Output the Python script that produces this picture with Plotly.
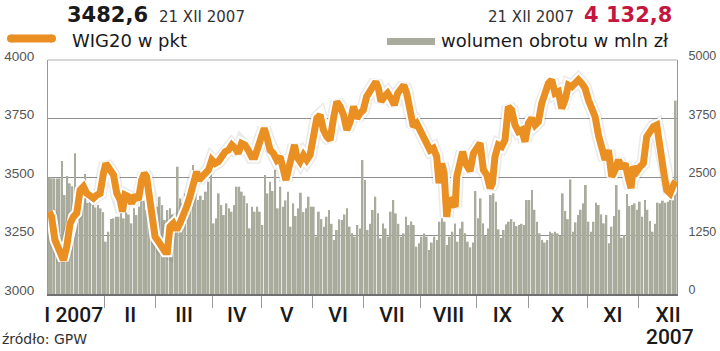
import plotly.graph_objects as go

# ---------------- data ----------------
month_labels = ["I 2007", "II", "III", "IV", "V", "VI", "VII", "VIII", "IX", "X", "XI", "XII"]
year_label = "2007"

# daily turnover (mln zł), one list per month
vol_jan = [2494, 2470, 2470, 2470, 2470, 2842, 2115, 2521, 2364, 2300, 3006, 2200, 2364, 2150, 2564, 1944, 2050, 1944, 1850, 1900, 1830, 1750]
vol_feb = [1118, 1331, 1600, 1616, 1652, 1652, 1723, 1616, 1759, 1700, 1509, 1830, 1687, 1865, 2435, 2000, 1794, 1652, 1438, 1700]
vol_mar = [1865, 2079, 1900, 1581, 1794, 1830, 1700, 1652, 2720, 2043, 1937, 2150, 1794, 1900, 2755, 2150, 2008, 2100, 2008, 2186, 2400, 3006]
vol_apr = [1509, 1616, 2150, 1900, 1687, 1937, 1830, 1759, 1900, 2293, 2293, 2186, 2100, 1937, 1403, 1865, 1759, 1865, 1759]
vol_may = [1474, 2542, 2150, 2399, 2200, 2649, 1830, 2293, 1865, 2000, 2186, 1438, 1937, 1666, 1830, 2164, 1750, 1830, 2079, 1865]
vol_jun = [1865, 1225, 1759, 1600, 1438, 1652, 1794, 1500, 1153, 1367, 1595, 1581, 1700, 1830, 1438, 1300, 1225, 1474, 1400, 2862]
vol_jul = [2435, 1367, 1500, 1794, 2079, 1723, 1189, 1509, 1400, 1225, 1759, 2008, 1723, 1500, 1225, 1296, 1652, 1474, 1550, 1474, 1011, 1082]
vol_aug = [1225, 1296, 1225, 940, 1100, 1225, 1153, 1545, 1616, 1545, 1047, 1225, 1331, 1509, 1118, 1400, 1545, 1300, 1118, 997, 1100, 2200]
vol_sep = [1616, 2043, 1509, 1246, 1400, 2115, 2150, 1972, 1381, 1200, 1367, 1488, 1545, 1600, 1545, 1452, 1474, 1500, 1474, 2008]
vol_oct = [2008, 2221, 1800, 1545, 1296, 1153, 1100, 1153, 1331, 1300, 1331, 1296, 1239, 2150, 1773, 1600, 2449, 1331, 1531, 1687, 1800, 1937, 2328]
vol_nov = [1545, 1331, 1545, 1951, 1901, 1700, 1509, 1687, 1082, 1438, 1666, 2328, 1800, 1203, 1260, 2136, 1879, 1900, 1937, 1800]
vol_dec = [1972, 1652, 2008, 1800, 1559, 1331, 1500, 1951, 1937, 1994, 1950, 1972, 2008, 2000, 4133]

# WIG20 readings: session number (trading day of 2007) and index level
wig_day = [0, 0.9, 2.2, 3.5, 5.5, 6.8, 8.1, 9.4, 10.7, 12.0, 13.3, 14.6, 15.9, 17.2, 18.5, 19.8, 21.1, 22.0, 23.7, 25.0,
           26.3, 27.6, 28.5, 29.5, 30.8, 32.1, 33.4, 34.7, 36.0, 37.0, 37.9, 38.8, 39.9, 41.2, 42.5, 43.8, 45.1, 46.0, 47.0, 48.3,
           49.6, 50.9, 52.2, 53.5, 54.8, 56.1, 57.4, 58.3, 59.4, 60.7, 62.0, 63.3, 64.6, 65.9, 67.2, 68.5, 69.8, 71.1, 72.4, 73.6,
           74.9, 76.2, 77.5, 78.8,
           80.1, 81.4, 82.7, 83.7, 84.7, 86.0, 87.3, 88.6, 89.9, 91.2, 92.2, 93.1, 94.4, 95.5, 96.4, 97.7, 99.0, 100.3, 101.6, 102.9,
           104.2, 105.5, 106.8, 108.1, 109.4, 110.7, 112.0, 113.3, 114.6, 115.9, 117.2, 118.5, 119.8, 121.0, 122.3, 123.6, 124.9, 126.2, 127.2, 128.2,
           129.2, 130.5, 131.8, 133.1, 134.4, 135.7, 137.0, 138.1, 139.2, 140.5, 141.8, 143.1, 144.4, 145.7, 147.0, 148.3, 149.6, 150.9, 151.8, 152.9,
           153.8, 154.8, 155.7, 156.8, 158.1, 158.7, 160.0, 161.0, 162.2, 163.9,
           165.2, 166.5, 167.8, 169.1, 170.4, 171.7, 172.6, 173.6, 174.9, 176.2, 177.5, 178.8, 180.1, 181.4, 182.7, 184.0, 185.3, 186.6, 187.9, 189.2,
           190.5, 191.8, 193.1, 194.4, 195.7, 197.0, 198.3, 199.6, 200.9, 202.2, 203.5, 204.8, 206.1, 207.4, 208.7, 210.0, 211.3, 212.6, 213.9, 215.2,
           216.5, 217.8, 219.1, 220.4, 221.7, 223.0, 224.3, 225.6, 226.6, 227.5, 228.8, 230.1, 231.4, 232.7, 234.0, 235.3, 236.6, 237.9, 239.2, 240.5,
           241.8, 243.1, 244.0]
wig_value = [3352, 3330, 3231, 3188, 3145, 3202, 3302, 3330, 3345, 3444, 3459, 3430, 3423, 3409, 3423, 3430, 3516, 3558, 3530, 3509,
             3430, 3402, 3352, 3423, 3416, 3387, 3423, 3402, 3487, 3516, 3501, 3430, 3330, 3245, 3224, 3195, 3181, 3181, 3288, 3302,
             3274, 3302, 3330, 3373, 3416, 3473, 3523, 3487, 3501, 3516, 3530, 3573, 3558, 3566, 3587, 3608, 3615, 3637, 3623, 3601,
             3644, 3637, 3615, 3587,
             3587, 3630, 3687, 3708, 3672, 3615, 3601, 3573, 3587, 3530, 3487, 3530, 3601, 3637, 3587, 3566, 3594, 3573, 3594, 3687,
             3751, 3765, 3701, 3672, 3658, 3751, 3822, 3801, 3765, 3701, 3736, 3801, 3751, 3772, 3786, 3843, 3865, 3893, 3907, 3879,
             3822, 3843, 3858, 3836, 3808, 3858, 3872, 3893, 3858, 3786, 3715, 3729, 3701, 3679, 3658, 3615, 3623, 3587, 3473, 3558,
             3516, 3330, 3409, 3387, 3373, 3501, 3587, 3608, 3558, 3525,
             3601, 3623, 3644, 3530, 3509, 3452, 3473, 3587, 3637, 3630, 3658, 3801, 3786, 3722, 3694, 3701, 3651, 3729, 3751, 3722,
             3736, 3815, 3865, 3900, 3915, 3858, 3865, 3793, 3829, 3893, 3886, 3900, 3915, 3900, 3879, 3829, 3801, 3758, 3679, 3608,
             3573, 3615, 3501, 3530, 3573, 3537, 3558, 3494, 3452, 3544, 3523, 3544, 3558, 3672, 3701, 3715, 3722, 3644, 3530, 3444,
             3430, 3466, 3482.6]

left_ticks = [3000, 3250, 3500, 3750, 4000]
right_ticks = [0, 1250, 2500, 3750, 5000]

volume_months = [vol_jan, vol_feb, vol_mar, vol_apr, vol_may, vol_jun,
                 vol_jul, vol_aug, vol_sep, vol_oct, vol_nov, vol_dec]
volume = [v for m in volume_months for v in m]
days = list(range(len(volume)))

# month boundaries and label positions (in sessions)
bounds, centers = [], []
start = 0
for m in volume_months:
    centers.append(start + (len(m) - 1) / 2)
    start += len(m)
    bounds.append(start - 0.5)
bounds = bounds[:-1]
centers[0] -= 1   # "I 2007" sits a little left of the month centre
centers[-1] += 4  # the XII / 2007 label sits toward the right edge

# ---------------- styling helpers ----------------
W, H = 720, 351
ML, MR, MT, MB = 48, 43, 60, 57
PW, PH = W - ML - MR, H - MT - MB


def px(x):
    return (x - ML) / PW


def py(y):
    return (H - MB - y) / PH


ORANGE = "#ea8f22"
BARC = "#a9ab9c"
HEAD = "DejaVu Sans"
MONTH_FONT = dict(family="Roboto", size=21, color="#1a1a1a", weight=500)

fig = go.Figure()
fig.add_trace(go.Bar(x=days, y=volume, yaxis="y", marker=dict(color=BARC, line=dict(width=0)),
                     hoverinfo="skip", showlegend=False))
fig.add_trace(go.Scatter(x=wig_day, y=wig_value, yaxis="y2", mode="lines",
                         line=dict(color="rgba(90,90,90,0.13)", width=14), hoverinfo="skip", showlegend=False))
fig.add_trace(go.Scatter(x=wig_day, y=wig_value, yaxis="y2", mode="lines",
                         line=dict(color="white", width=11), hoverinfo="skip", showlegend=False))
fig.add_trace(go.Scatter(x=wig_day, y=wig_value, yaxis="y2", mode="lines",
                         line=dict(color=ORANGE, width=7), showlegend=False))

left_font = dict(family="Liberation Sans, Arial", size=13.5, color="#555555")
right_font = dict(family="Liberation Sans, Arial", size=12.5, color="#555555")

fig.update_layout(
    width=W, height=H,
    margin=dict(l=ML, r=MR, t=MT, b=MB, autoexpand=False),
    paper_bgcolor="white", plot_bgcolor="white",
    bargap=0.3,
    xaxis=dict(range=[-0.5, len(volume) - 0.5], tickmode="array", tickvals=centers, ticktext=month_labels,
               ticks="", showgrid=False, zeroline=False, showline=True, linecolor="#707070", linewidth=2,
               tickfont=MONTH_FONT, ticklabelstandoff=1, automargin=False,
               minor=dict(tickmode="array", tickvals=bounds, ticks="outside", ticklen=12,
                          tickcolor="#9a9a9a", tickwidth=1, showgrid=False)),
    yaxis=dict(side="right", range=[0, 5000], tickmode="array", tickvals=right_ticks,
               showgrid=True, gridcolor="#8f8f8f", gridwidth=1, zeroline=False,
               showline=True, linecolor="#9a9a9a", linewidth=1, ticks="", automargin=False,
               tickfont=right_font, ticklabelstandoff=8, ticklabelshift=-4),
    yaxis2=dict(side="left", overlaying="y", range=[3000, 4000], tickmode="array", tickvals=left_ticks,
                showgrid=False, zeroline=False, showline=True, linecolor="#9a9a9a", linewidth=1, ticks="",
                automargin=False, tickfont=left_font, ticklabelstandoff=10, ticklabelshift=-4),
)

# frame top line
fig.add_shape(type="line", xref="paper", yref="paper", x0=0, x1=1, y0=1, y1=1,
              line=dict(color="#b0b0b0", width=1))

# legend swatches
fig.add_shape(type="line", xref="paper", yref="paper", x0=px(11), x1=px(52), y0=py(38.5), y1=py(38.5),
              line=dict(color=ORANGE, width=8))
for cx in (11, 52):
    fig.add_shape(type="circle", xref="paper", yref="paper", x0=px(cx - 4), x1=px(cx + 4),
                  y0=py(42.5), y1=py(34.5), fillcolor=ORANGE, line=dict(width=0))
fig.add_shape(type="rect", xref="paper", yref="paper", x0=px(387), x1=px(435), y0=py(45), y1=py(38),
              fillcolor=BARC, line=dict(width=0))


def note(text, x, y, size, color="#222222", anchor="left", family=HEAD, weight=None):
    f = dict(family=family, size=size, color=color)
    if weight:
        f["weight"] = weight
    fig.add_annotation(text=text, xref="paper", yref="paper", x=px(x), y=py(y),
                       xanchor=anchor, yanchor="middle", showarrow=False, font=f)


note("<b>3482,6</b>", 65, 15, 21, color="#1a1a1a")
note("21 XII 2007", 157, 17, 15, color="#333333")
note("WIG20 w pkt", 70, 40, 18, color="#1a1a1a")
note("21 XII 2007", 576, 17, 15, color="#333333", anchor="right")
note("<b>4 132,8</b>", 674, 15, 21, color="#c4173f", anchor="right")
note("wolumen obrotu w mln zł", 671, 40, 18, color="#1a1a1a", anchor="right")
note("źródło: GPW", 0, 339, 14, color="#333333")
note(year_label, 670, 337, 21, color="#1a1a1a", anchor="center", family="Roboto", weight=500)

fig.write_html("out.html")
